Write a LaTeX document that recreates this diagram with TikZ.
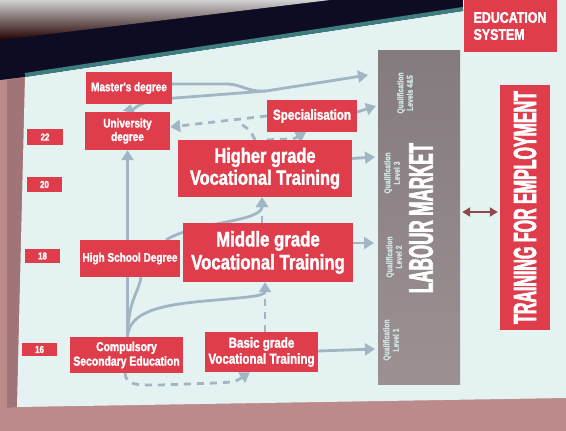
\documentclass[tikz,border=0pt]{standalone}
\usepackage{fontspec}
\usetikzlibrary{arrows.meta,calc}
\newfontfamily\boxfont{Liberation Sans}[FakeStretch=0.8, FakeBold=1.6]
\newfontfamily\tallfont{Liberation Sans}[FakeStretch=0.5, FakeBold=2]
\definecolor{boxred}{HTML}{DF3D4C}
\definecolor{flow}{HTML}{A2B5C3}
\definecolor{slide}{HTML}{E4F2F2}
\definecolor{wall}{HTML}{BD8A8C}
\definecolor{ceilingdark}{HTML}{0E0C22}
\definecolor{rim}{HTML}{3C7E80}
\definecolor{markettop}{HTML}{847B7F}
\definecolor{marketbot}{HTML}{9C9092}
\definecolor{qualtext}{HTML}{CFE2E3}
\definecolor{link}{HTML}{8B4A50}
\pgfdeclarelayer{room}
\pgfdeclarelayer{wires}
\pgfsetlayers{room,wires,main}
\newcommand\fsz[2]{\fontsize{#1}{#2}\selectfont}
\begin{document}
\begin{tikzpicture}[x=1pt,y=-1pt,
  redbox/.style={fill=boxred,text=white,inner sep=0pt,align=center},
  flowline/.style={draw=flow,line width=2.8pt},
  tipA/.style={-{Triangle[length=10pt,width=12pt]}},
  flowdash/.style={flowline,dash pattern=on 7pt off 6pt},
  qual/.style={rotate=90,text=qualtext,align=center,inner sep=0pt,
    font=\boxfont\bfseries\fsz{8.5}{9.5}}]
\useasboundingbox (0,0) rectangle (566,431);

% ---------- room, screen ----------
\begin{pgfonlayer}{room}
\fill[wall] (0,0) rectangle (566,431);
\fill[ceilingdark] (0,0) -- (566,0) -- (566,6) -- (25,77) -- (0,80) -- cycle;
\shade[top color=black!18, bottom color=black!55!red!30!black] (0,0) -- (330,0) -- (0,40) -- cycle;
\fill[wall!85!black] (7,80) -- (25,77) -- (17,407) -- (7,408) -- cycle;
\fill[slide] (25,77) -- (463,11) -- (463,0) -- (566,0) -- (566,398) -- (17,407) -- cycle;
\draw[rim, line width=4pt] (25,75) -- (463,9);
\end{pgfonlayer}

% ---------- age markers ----------
\node[redbox, minimum width=36, minimum height=16, font=\boxfont\bfseries\fsz{10}{11}] (a22) at (45,137) {22};
\node[redbox, minimum width=35, minimum height=15, font=\boxfont\bfseries\fsz{10}{11}] (a20) at (44.5,184.5) {20};
\node[redbox, minimum width=35, minimum height=14, font=\boxfont\bfseries\fsz{10}{11}] (a18) at (42.5,256) {18};
\node[redbox, minimum width=35, minimum height=13, font=\boxfont\bfseries\fsz{10}{11}] (a16) at (39.5,349.5) {16};

% ---------- education boxes ----------
\node[redbox, minimum width=86, minimum height=32, font=\boxfont\bfseries\fsz{12.5}{14}] (master) at (129,88) {Master's degree};
\node[redbox, minimum width=85, minimum height=38, font=\boxfont\bfseries\fsz{12.5}{13.5}] (univ) at (127.5,131) {University\\degree};
\node[redbox, minimum width=90, minimum height=32, font=\boxfont\bfseries\fsz{14.5}{16}] (spec) at (312,116) {Specialisation};
\node[redbox, minimum width=174, minimum height=57, font=\boxfont\bfseries\fsz{20.5}{22}] (higher) at (265,168.5) {Higher grade\\Vocational Training};
\node[redbox, minimum width=100, minimum height=37, font=\boxfont\bfseries\fsz{12.5}{13.5}] (hsd) at (130,258.5) {High School Degree};
\node[redbox, minimum width=170, minimum height=59, font=\boxfont\bfseries\fsz{21}{23}] (middle) at (268,252.5) {Middle grade\\Vocational Training};
\node[redbox, minimum width=113, minimum height=36, font=\boxfont\bfseries\fsz{13}{14.5}] (cse) at (126.5,355) {Compulsory\\Secondary Education};
\node[redbox, minimum width=113, minimum height=40, font=\boxfont\bfseries\fsz{14.5}{16}] (basic) at (261.5,352) {Basic grade\\Vocational Training};

% ---------- labour market ----------
\node[top color=markettop, bottom color=marketbot, minimum width=82, minimum height=334, inner sep=0pt] (lm) at (419,217) {};
\node[rotate=90, text=white, inner sep=0pt, font=\tallfont\bfseries\fsz{34}{34}] (lmtitle) at (421,218) {LABOUR MARKET};
\node[qual] (q45) at (405,93) {Qualification\\Levels 4\&5};
\node[qual] (q3) at (392,173) {Qualification\\Level 3};
\node[qual] (q2) at (394,257) {Qualification\\Level 2};
\node[qual] (q1) at (391,340) {Qualification\\Level 1};

% ---------- right column ----------
\node[redbox, rotate=90, minimum width=245, minimum height=50, font=\tallfont\bfseries\fsz{32}{32}] (train) at (525,207.5) {TRAINING FOR EMPLOYMENT};
\node[redbox, minimum width=93, minimum height=52, align=left, font=\boxfont\bfseries\fsz{15.5}{17}] (edu) at (510,26) {EDUCATION\\SYSTEM};

% arrow ends in front of the labour market column
\coordinate (in45) at (368,75);
\coordinate (in4b) at (376,106);
\coordinate (in3) at (375,157);
\coordinate (in2) at (374,243);
\coordinate (in1) at (375,349);
\coordinate (merge) at (266,91);
\coordinate (dashjoin) at (238,122);

% ---------- connectors ----------
\begin{pgfonlayer}{wires}
% university level
\draw[flowline, tipA] ([yshift=4pt]master.east) -- (226,84) .. controls (242,84) and (246,92) .. (merge) -- (in45);
\draw[flowline] ([xshift=4pt]univ.north) .. controls (136,104) and (150,100) .. (175,98) -- (merge);
\draw[flowline, -{Triangle[length=8pt,width=12pt]}] ([xshift=1.5pt]univ.north) -- ([xshift=1.5pt]master.south);
\draw[flowline, tipA] ([yshift=4pt]spec.east) -- (in4b);
\draw[flowdash, tipA] (spec.west) -- ([yshift=4pt]univ.east);
\draw[flowdash] ([xshift=-10pt]higher.north) .. controls (250,130) .. (dashjoin);
\draw[flowdash, tipA] ([xshift=2pt]higher.north) .. controls (294,139) .. ([xshift=-6pt]spec.south);
% vocational levels to the market
\draw[flowline, tipA] ([yshift=10pt]higher.east) -- (in3);
\draw[flowline, tipA] ([yshift=9.5pt]middle.east) -- (in2);
\draw[flowline, tipA] ([yshift=1pt]basic.east) -- (in1);
% from compulsory education upwards
\draw[flowline, tipA] (univ.south |- cse.north) -- (univ.south);
\draw[flowline] (univ.south |- cse.north) .. controls (128,300) and (139,292) .. ([xshift=11pt]hsd.south);
\draw[flowline, tipA] (univ.south |- cse.north) .. controls (129,312) and (160,305) .. (205,301) .. controls (250,297) and (265,296) .. ([xshift=-3pt]middle.south);
\draw[flowline, tipA] ([xshift=-14pt]hsd.north east) .. controls (195,222) and (262,222) .. ([xshift=-3pt]higher.south);
\draw[flowdash] ([xshift=3.5pt]basic.north) -- ([xshift=-3pt]middle.south);
\draw[flowdash, tipA] ([xshift=-6pt]middle.north) -- ([xshift=-3pt]higher.south);
\draw[flowdash, tipA] ([xshift=-1.5pt]cse.south) .. controls (126,386) and (138,385) .. (160,385) -- (215,383) .. controls (235,382) .. ([xshift=-11.5pt]basic.south);
% labour market <-> training
\draw[link, line width=2.5pt, {Triangle[length=8pt,width=9pt]}-{Triangle[length=8pt,width=9pt]}, shorten <=2pt, shorten >=2pt] ([yshift=5pt]lm.east) -- ([yshift=-4.5pt]train.north);
\end{pgfonlayer}
\end{tikzpicture}
\end{document}
